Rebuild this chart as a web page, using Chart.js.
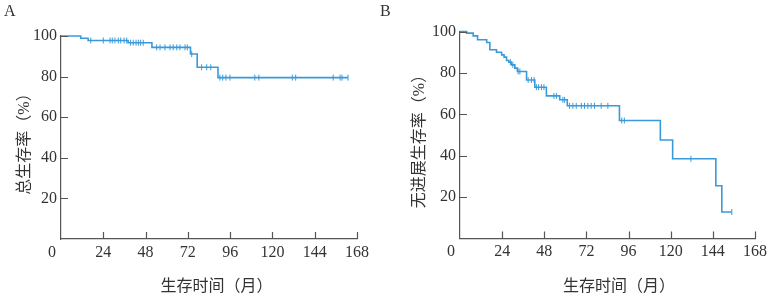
<!DOCTYPE html>
<html>
<head>
<meta charset="utf-8">
<script src="https://cdn.jsdelivr.net/npm/chart.js@4/dist/chart.umd.min.js"></script>
<style>
  body { margin: 0; background: #fff; }
  .panel { position: absolute; top: 0; height: 298px; }
</style>
</head>
<body>
<div class="panel" style="left:0;width:375px"><canvas id="kmA" width="375" height="298"></canvas></div>
<div class="panel" style="left:375px;width:396px"><canvas id="kmB" width="396" height="298"></canvas></div>
<script>
// Courbes de Kaplan-Meier : A = survie globale, B = survie sans progression
const xTicks = [0, 24, 48, 72, 96, 120, 144, 168];
const yTicks = [0, 20, 40, 60, 80, 100];

// A : temps (mois) des paliers et taux (%) après chaque palier
const osTime = [0, 11.2, 15.4, 38.1, 51.6, 73.5, 77.3, 89.1, 162.9];
const osSurv = [100, 98.9, 97.8, 96.7, 94.4, 91.1, 84.6, 79.5, 79.5];
const osCensor = [16.9, 24, 27.8, 29.1, 30.6, 32.5, 33.9, 35.8, 37.3,
  39.5, 41, 42.6, 43.9, 45.2, 46.7,
  54.3, 56.2, 59, 61.9, 63.7, 65.7, 67.5, 70.4, 71.7, 74.2,
  79.8, 82.7, 85, 90.2, 91.8, 93.6, 95.9, 110, 112.3, 131.3, 133.2,
  154.5, 158.4, 159.5, 162.9];

// B
const pfsTime = [0, 3.8, 7.5, 10, 15.2, 17, 20.8, 23.7, 25.1, 26.5, 27.8, 29.3,
  31.2, 32.7, 37.9, 42.6, 49.2, 56.8, 61.1, 90.8, 114.1, 121.1, 145.7, 149.1, 154.8];
const pfsSurv = [100, 99.2, 97.9, 96.0, 94.7, 91.2, 90.0, 88.7, 87.6, 86.0, 85.2, 83.9,
  82.3, 80.7, 76.6, 73.1, 68.9, 67.0, 64.1, 57.0, 47.6, 38.5, 25.5, 12.8, 12.8];
const pfsCensor = [28.7, 30.1, 33.1, 34.1, 38.8, 40.7, 42.2, 43.5, 44.8, 46.4, 47.8,
  53.5, 54.9, 58.6, 59.6, 62.4, 64.3, 66.2, 69.1, 70.9, 72.8, 74.7, 76.6, 80.4, 84.2,
  92.1, 93.6, 131.5, 154.8];

const BLEU = "#3a9ad9";
const AXE = "#555";
const TEXTE = "#333";
const fontNum = { family: "'Liberation Serif', 'DejaVu Serif', serif", size: 16 };
const fontTitre = "16px 'Liberation Serif', 'Noto Sans CJK SC', sans-serif";

// valeur du palier en t (dernier temps <= t)
function palier(times, surv, t) {
  let v = surv[0];
  for (let i = 0; i < times.length; i++) if (times[i] <= t) v = surv[i];
  return v;
}

function renderKM(canvas, cfg) {
  const W = canvas.width, H = canvas.height, a = cfg.area;

  const deco = {
    id: "deco",
    afterDraw(chart) {
      const { ctx, scales: { x, y } } = chart;
      ctx.save();
      // graduations tournées vers l'intérieur
      ctx.strokeStyle = AXE;
      ctx.lineWidth = 1.2;
      ctx.beginPath();
      xTicks.slice(1).forEach((v) => {
        const px = Math.round(x.getPixelForValue(v)) + 0.5;
        ctx.moveTo(px, y.bottom); ctx.lineTo(px, y.bottom - 7);
      });
      yTicks.slice(1).forEach((v) => {
        const py = Math.round(y.getPixelForValue(v)) + 0.5;
        ctx.moveTo(x.left, py); ctx.lineTo(x.left + 7, py);
      });
      ctx.stroke();

      ctx.fillStyle = TEXTE;
      ctx.font = "16px 'Liberation Serif', serif";
      ctx.textAlign = "center";
      ctx.textBaseline = "middle";
      ctx.fillText("0", x.left - 9, y.bottom + 13.5);

      ctx.textAlign = "left";
      ctx.textBaseline = "alphabetic";
      ctx.fillText(cfg.lettre, cfg.lettreX, 16);

      ctx.font = fontTitre;
      ctx.textAlign = "center";
      ctx.textBaseline = "middle";
      ctx.fillText("生存时间（月）", cfg.xTitreX, 287);

      ctx.translate(cfg.yTitreX, cfg.yTitreY);
      ctx.rotate(-Math.PI / 2);
      ctx.fillText(cfg.yTitre, 0, 0);
      ctx.restore();
    },
  };

  new Chart(canvas, {
    type: "line",
    data: {
      datasets: [
        {
          data: cfg.times.map((t, i) => ({ x: t, y: cfg.surv[i] })),
          borderColor: BLEU,
          borderWidth: 1.6,
          stepped: true,
          pointRadius: 0,
          fill: false,
          clip: false,
        },
        {
          data: cfg.censor.map((t) => ({ x: t, y: palier(cfg.times, cfg.surv, t) })),
          showLine: false,
          pointStyle: "line",
          rotation: 90,
          pointRadius: 3,
          borderWidth: 1,
          borderColor: BLEU,
          clip: false,
        },
      ],
    },
    options: {
      responsive: false,
      animation: false,
      events: [],
      layout: { padding: { left: 0, top: a.top, right: W - a.right, bottom: 0 } },
      plugins: { legend: { display: false }, tooltip: { enabled: false } },
      scales: {
        x: {
          type: "linear",
          min: 0,
          max: 168,
          afterBuildTicks: (s) => { s.ticks = xTicks.map((v) => ({ value: v })); },
          afterFit: (s) => { s.height = H - a.bottom; },
          ticks: {
            autoSkip: false,
            maxRotation: 0,
            padding: 4,
            color: TEXTE,
            font: fontNum,
            callback: (v) => (v === 0 ? "" : v),
          },
          grid: { display: true, drawOnChartArea: false, drawTicks: false },
          border: { color: AXE, width: 1.2 },
        },
        y: {
          min: 0,
          max: 100,
          afterBuildTicks: (s) => { s.ticks = yTicks.map((v) => ({ value: v })); },
          afterFit: (s) => { s.width = a.left; },
          ticks: {
            padding: 4,
            color: TEXTE,
            font: fontNum,
            callback: (v) => (v === 0 ? "" : v),
          },
          grid: { display: true, drawOnChartArea: false, drawTicks: false },
          border: { color: AXE, width: 1.2 },
        },
      },
    },
    plugins: [deco],
  });
}

renderKM(document.getElementById("kmA"), {
  times: osTime, surv: osSurv, censor: osCensor,
  area: { left: 61, top: 36, right: 357, bottom: 239 },
  lettre: "A", lettreX: 4,
  yTitre: "总生存率（%）", yTitreX: 25, yTitreY: 140,
  xTitreX: 216.5,
});

renderKM(document.getElementById("kmB"), {
  times: pfsTime, surv: pfsSurv, censor: pfsCensor,
  area: { left: 85, top: 31.5, right: 381, bottom: 238.5 },
  lettre: "B", lettreX: 5,
  yTitre: "无进展生存率（%）", yTitreX: 45, yTitreY: 137.5,
  xTitreX: 244,
});
</script>
</body>
</html>
